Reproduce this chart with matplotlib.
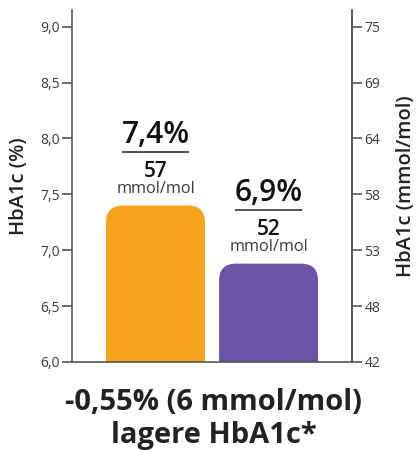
import matplotlib
matplotlib.use('Agg')
import matplotlib.pyplot as plt
from matplotlib.patches import FancyBboxPatch, Rectangle

plt.rcParams['font.family'] = ['Open Sans', 'DejaVu Sans']

# data
groups = ['A', 'B']
hba1c_pct = [7.40, 6.88]            # bar heights (%)
pct_labels = ['7,4%', '6,9%']
mmol_labels = ['57', '52']
bar_colors = ['#F6A21D', '#6B54A3']

left_ticks = [6.0, 6.5, 7.0, 7.5, 8.0, 8.5, 9.0]
left_labels = ['6,0', '6,5', '7,0', '7,5', '8,0', '8,5', '9,0']
right_labels = ['42', '48', '53', '58', '64', '69', '75']

axis_col = '#555555'
text_col = '#3a3a3a'

fig = plt.figure(figsize=(4.17, 4.5), dpi=100)
ax = fig.add_axes([0.1727, 0.1956, 0.6715, 0.7822])

x = list(range(len(groups)))
width = 0.876
bars = ax.bar(x, hba1c_pct, width=width, bottom=0, color='none')

ax.set_xlim(-0.739, 1.739)
ax.set_ylim(6.0, 9.15)

# rounded-top bars
r = 0.15
for b, c in zip(bars, bar_colors):
    x0, w, h = b.get_x(), b.get_width(), b.get_height()
    ax.add_patch(FancyBboxPatch((x0, 5.0), w, h - 5.0,
                                boxstyle=f'round,pad=0,rounding_size={r}',
                                mutation_aspect=1.01, fc=c, ec='none', zorder=2))
    ax.add_patch(Rectangle((x0, 5.0), w, (h - 5.0) / 2, fc=c, ec='none', zorder=2))

# labels above bars
for xi, v, p, m in zip(x, hba1c_pct, pct_labels, mmol_labels):
    ax.annotate(p, xy=(xi, v), xytext=(0, 45), textcoords='offset points',
                ha='center', va='baseline', fontsize=21.5, fontweight='semibold',
                color='#111111')
    ax.plot([xi - 0.298, xi + 0.298], [v + 0.483, v + 0.483],
            color='#444444', lw=1.3, solid_capstyle='butt', clip_on=False)
    ax.annotate(m, xy=(xi, v), xytext=(0, 20.8), textcoords='offset points',
                ha='center', va='baseline', fontsize=15, fontweight='semibold',
                color='#111111')
    ax.annotate('mmol/mol', xy=(xi, v), xytext=(0, 8.8), textcoords='offset points',
                ha='center', va='baseline', fontsize=11.7, color=text_col)

# axes styling
ax.spines['top'].set_visible(False)
for s in ['left', 'right', 'bottom']:
    ax.spines[s].set_color(axis_col)
    ax.spines[s].set_linewidth(1.2)
ax.set_xticks([])
ax.set_yticks(left_ticks)
ax.set_yticklabels(left_labels)
ax.tick_params(axis='y', length=7, width=1.2, color=axis_col, labelsize=10,
               labelcolor=text_col, pad=2)
ax.set_ylabel('HbA1c (%)', fontsize=14.5, fontweight='semibold', color='#222222',
              labelpad=8)

ax2 = ax.twinx()
ax2.set_ylim(ax.get_ylim())
ax2.set_yticks(left_ticks)
ax2.set_yticklabels(right_labels)
ax2.spines['top'].set_visible(False)
ax2.spines['left'].set_visible(False)
ax2.spines['bottom'].set_visible(False)
ax2.spines['right'].set_color(axis_col)
ax2.spines['right'].set_linewidth(1.2)
ax2.tick_params(axis='y', length=7, width=1.2, color=axis_col, labelsize=10,
                labelcolor=text_col, pad=2)
ax2.set_ylabel('HbA1c (mmol/mol)', fontsize=14.5, fontweight='semibold',
               color='#222222', labelpad=11)

fig.text(0.513, 0.105, '-0,55% (6 mmol/mol)', ha='center', va='center',
         fontsize=21, fontweight='bold', color='#222222')
fig.text(0.513, 0.033, 'lagere HbA1c*', ha='center', va='center',
         fontsize=21, fontweight='bold', color='#222222')

fig.savefig('out.png', dpi=100)
